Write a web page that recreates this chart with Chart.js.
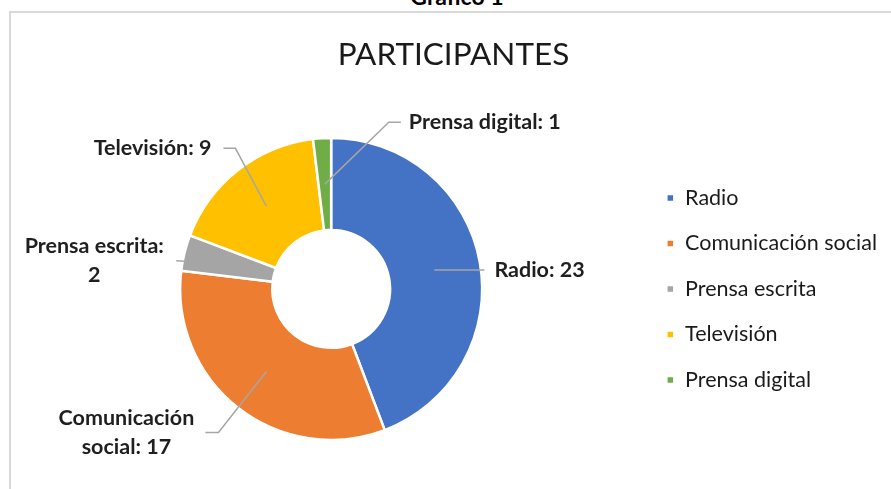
<!DOCTYPE html>
<html>
<head>
<meta charset="utf-8">
<script src="https://cdn.jsdelivr.net/npm/chart.js@4.4.1/dist/chart.umd.min.js"></script>
<style>
    html, body { margin: 0; padding: 0; background: #fff; overflow: hidden; }
    #wrap { position: relative; width: 891px; height: 489px; }
    #frame { position: absolute; left: 9px; top: 11px; width: 950px; height: 600px; border: 2px solid #d9d9d9; }
    #heading { position: absolute; left: 0; width: 914px; top: -16px; text-align: center; font: bold 23px Lato, sans-serif; line-height: 24px; color: #000; }
    canvas { position: absolute; left: 0; top: 0; }
</style>
</head>
<body>
<div id="wrap">
    <div id="frame"></div>
    <div id="heading">Gráfico 1</div>
    <canvas id="participantsChart" width="891" height="489"></canvas>
</div>
<script>
const chartTitle = 'PARTICIPANTES';
const categories = ['Radio', 'Comunicación social', 'Prensa escrita', 'Televisión', 'Prensa digital'];
const participants = [23, 17, 2, 9, 1];
const sliceColors = ['#4472C4', '#ED7D31', '#A5A5A5', '#FFC000', '#70AD47'];

// leader line + label layout for each slice (offsets from the anchor point on the ring)
const labelStyles = [
    { anchor: 0.5, path: [[50, 0]], align: 'left', dx: 10, breakAfter: 0 },
    { anchor: 0.5, path: [[-48, 61], [-61, 61]], align: 'center', dx: -79, breakAfter: 1 },
    { anchor: 0.5, path: [[-53, -3]], align: 'center', dx: -82, breakAfter: 2 },
    { anchor: 0.5, path: [[-31, -58], [-43, -58]], align: 'right', dx: -12, breakAfter: 0 },
    { anchor: 0.5, path: [[64, -62], [76, -62]], align: 'left', dx: 8, breakAfter: 0 }
];

const leaderLabels = {
    id: 'leaderLabels',
    afterDatasetsDraw(chart) {
        const ctx = chart.ctx;
        const meta = chart.getDatasetMeta(0);
        ctx.save();
        meta.data.forEach((arc, i) => {
            const st = labelStyles[i];
            const p = arc.getProps(['x', 'y', 'startAngle', 'endAngle', 'innerRadius', 'outerRadius'], true);
            const mid = (p.startAngle + p.endAngle) / 2;
            const r = p.innerRadius + (p.outerRadius - p.innerRadius) * st.anchor;
            const ax = p.x + Math.cos(mid) * r;
            const ay = p.y + Math.sin(mid) * r;

            ctx.strokeStyle = '#a6a6a6';
            ctx.lineWidth = 1.5;
            ctx.beginPath();
            ctx.moveTo(ax, ay);
            st.path.forEach(pt => ctx.lineTo(ax + pt[0], ay + pt[1]));
            ctx.stroke();

            const end = st.path[st.path.length - 1];
            const ex = ax + end[0];
            const ey = ay + end[1];
            const words = (categories[i] + ': ' + participants[i]).split(' ');
            let lines = [words.join(' ')];
            if (st.breakAfter > 0) {
                lines = [words.slice(0, st.breakAfter).join(' '), words.slice(st.breakAfter).join(' ')];
            }
            ctx.font = 'bold 21.5px Lato, sans-serif';
            ctx.fillStyle = '#1f1f1f';
            ctx.textAlign = st.align;
            ctx.textBaseline = 'middle';
            const lh = 29;
            const y0 = ey - (lines.length - 1) * lh / 2;
            lines.forEach((t, k) => ctx.fillText(t, ex + st.dx, y0 + k * lh));
        });
        ctx.restore();
    }
};

new Chart(document.getElementById('participantsChart'), {
    type: 'doughnut',
    data: {
        labels: categories,
        datasets: [{
            data: participants,
            backgroundColor: sliceColors,
            borderColor: '#ffffff',
            borderWidth: 2.5,
            hoverOffset: 0
        }]
    },
    options: {
        responsive: false,
        animation: false,
        radius: 151,
        cutout: '39%',
        layout: { padding: { left: 20, right: 4, top: 0, bottom: 0 } },
        plugins: {
            title: {
                display: true,
                text: chartTitle,
                color: '#1a1a1a',
                font: { family: 'Lato, sans-serif', size: 31.5, weight: 'normal' },
                padding: { top: 36, bottom: 15 }
            },
            legend: {
                position: 'right',
                fullSize: false,
                labels: {
                    boxWidth: 8,
                    boxHeight: 8,
                    padding: 24,
                    color: '#1a1a1a',
                    font: { family: 'Lato, sans-serif', size: 21.5 }
                }
            },
            tooltip: { enabled: false }
        }
    },
    plugins: [leaderLabels]
});
</script>
</body>
</html>
